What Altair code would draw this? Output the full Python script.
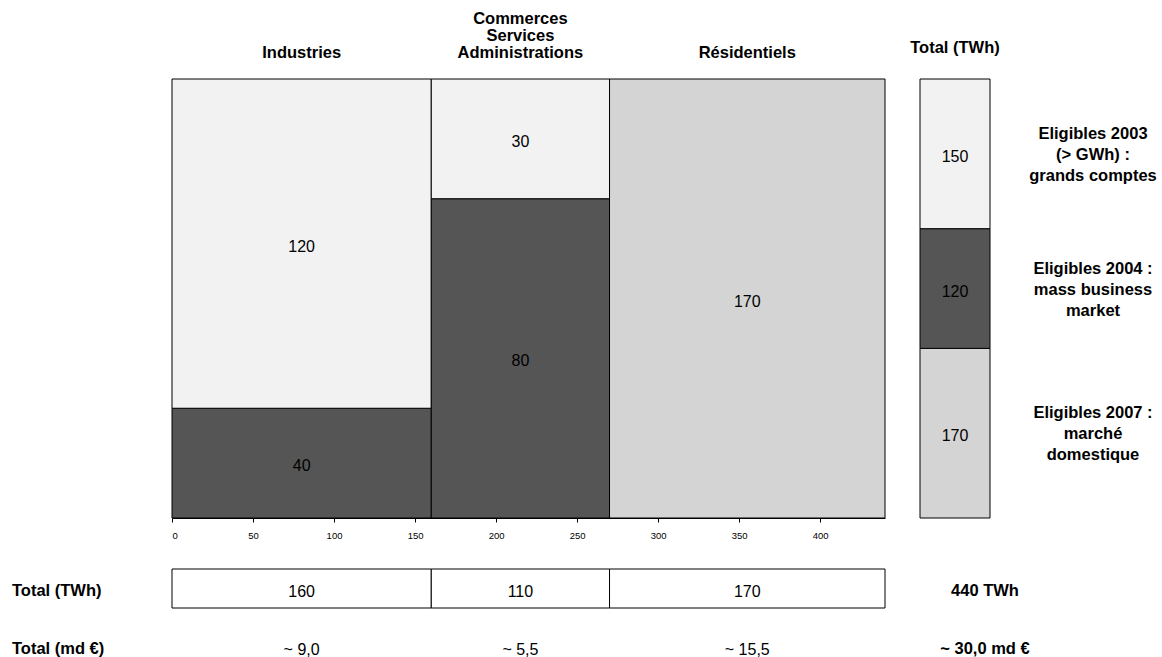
import altair as alt
import pandas as pd

# ---- data ----
segments = ["Industries", "Commerces\nServices\nAdministrations", "Résidentiels"]
eligibles_2003 = [120, 30, 0]
eligibles_2004 = [40, 80, 0]
eligibles_2007 = [0, 0, 170]
segment_euro = ["~ 9,0", "~ 5,5", "~ 15,5"]
total_euro_label = "~ 30,0 md €"
categories = ["Eligibles 2007", "Eligibles 2004", "Eligibles 2003"]  # bottom -> top
legend_labels = [
    "Eligibles 2007 :\nmarché\ndomestique",
    "Eligibles 2004 :\nmass business\nmarket",
    "Eligibles 2003\n(> GWh) :\ngrands comptes",
]
colors = ["#d4d4d4", "#555555", "#f2f2f2"]
x_ticks = [0, 50, 100, 150, 200, 250, 300, 350, 400]

FONT = "Liberation Sans"
BOLD = 16.5
NUM = 16
series = {"Eligibles 2007": eligibles_2007, "Eligibles 2004": eligibles_2004, "Eligibles 2003": eligibles_2003}
seg_tot = [a + b + c for a, b, c in zip(eligibles_2003, eligibles_2004, eligibles_2007)]
grand_total = sum(seg_tot)

cells, segs = [], []
x0 = 0
for i, seg in enumerate(segments):
    w = seg_tot[i]
    acc = 0
    for cat in categories:
        v = series[cat][i]
        if v > 0:
            cells.append(dict(seg=seg, cat=cat, value=v, x0=x0, x1=x0 + w,
                              xm=x0 + w / 2, y0=acc / w, y1=(acc + v) / w, ym=(acc + v / 2) / w))
        acc += v
    segs.append(dict(seg=seg, nl=seg.count("\n") + 1, x0=x0, x1=x0 + w, xm=x0 + w / 2,
                     total=w, euro=segment_euro[i]))
    x0 += w
cells = pd.DataFrame(cells)
segs = pd.DataFrame(segs)

tot_rows = []
acc = 0
for cat, lab in zip(categories, legend_labels):
    v = sum(series[cat])
    tot_rows.append(dict(cat=cat, value=v, y0=acc / grand_total, y1=(acc + v) / grand_total,
                         ym=(acc + v / 2) / grand_total, legend=lab))
    acc += v
tots = pd.DataFrame(tot_rows)

xs = alt.Scale(domain=[0, grand_total], nice=False, zero=True)
ys = alt.Scale(domain=[0, 1], nice=False, zero=True)
cs = alt.Scale(domain=categories, range=colors)

xaxis = alt.Axis(values=x_ticks, title=None, grid=False, labelFontSize=9.5, labelFont=FONT,
                 tickSize=4, labelPadding=8, domainColor="black", tickColor="black",
                 labelColor="black", domainWidth=1)

rects = alt.Chart(cells).mark_rect(stroke="black", strokeWidth=1).encode(
    x=alt.X("x0:Q", scale=xs, axis=xaxis), x2="x1:Q",
    y=alt.Y("y0:Q", scale=ys, axis=None), y2="y1:Q",
    color=alt.Color("cat:N", scale=cs, legend=None),
)
cell_text = alt.Chart(cells).mark_text(font=FONT, fontSize=NUM, color="black", dy=3).encode(
    x=alt.X("xm:Q", scale=xs), y=alt.Y("ym:Q", scale=ys), text="value:Q")

headers = alt.Chart(segs).transform_calculate(
    hy="-26 - (datum.nl - 1) * 17"
).mark_text(font=FONT, fontSize=BOLD, fontWeight="bold", lineBreak="\n", lineHeight=17,
            color="black").encode(
    x=alt.X("xm:Q", scale=xs), y=alt.Y("hy:Q", scale=None), text="seg:N")

# right total bar
tot_rect = alt.Chart(tots).mark_rect(stroke="black", strokeWidth=1).encode(
    x=alt.value(748), x2=alt.value(818),
    y=alt.Y("y0:Q", scale=ys), y2="y1:Q",
    color=alt.Color("cat:N", scale=cs, legend=None))
tot_text = alt.Chart(tots).mark_text(font=FONT, fontSize=NUM, color="black", dy=3).encode(
    x=alt.value(783), y=alt.Y("ym:Q", scale=ys), text="value:Q")
leg_text = alt.Chart(tots).mark_text(font=FONT, fontSize=BOLD, fontWeight="bold", lineBreak="\n",
                                     lineHeight=21, dy=-20, color="black").encode(
    x=alt.value(921), y=alt.Y("ym:Q", scale=ys), text="legend:N")
tot_header = alt.Chart(pd.DataFrame({"t": ["Total (TWh)"]})).mark_text(
    font=FONT, fontSize=BOLD, fontWeight="bold", color="black").encode(
    x=alt.value(783), y=alt.value(-31), text="t:N")

# bottom rows
box = alt.Chart(segs).mark_rect(fill="white", stroke="black", strokeWidth=1).encode(
    x=alt.X("x0:Q", scale=xs), x2="x1:Q", y=alt.value(490), y2=alt.value(529))
box_text = alt.Chart(segs).mark_text(font=FONT, fontSize=NUM, color="black").encode(
    x=alt.X("xm:Q", scale=xs), y=alt.value(513), text="total:Q")
euro_text = alt.Chart(segs).mark_text(font=FONT, fontSize=NUM, color="black").encode(
    x=alt.X("xm:Q", scale=xs), y=alt.value(571), text="euro:N")

side = pd.DataFrame({
    "t": ["Total (TWh)", "Total (md €)", f"{grand_total} TWh", total_euro_label],
    "px": [-160, -160, 813, 813],
    "py": [512, 570, 512, 570],
    "al": ["left", "left", "center", "center"],
})
left_lab = alt.Chart(side[side.al == "left"]).mark_text(
    font=FONT, fontSize=BOLD, fontWeight="bold", align="left", color="black").encode(
    x=alt.X("px:Q", scale=None), y=alt.Y("py:Q", scale=None), text="t:N")
right_lab = alt.Chart(side[side.al == "center"]).mark_text(
    font=FONT, fontSize=BOLD, fontWeight="bold", align="center", color="black").encode(
    x=alt.X("px:Q", scale=None), y=alt.Y("py:Q", scale=None), text="t:N")

chart = alt.layer(rects, cell_text, headers, tot_rect, tot_text, leg_text, tot_header,
                  box, box_text, euro_text, left_lab, right_lab).properties(
    width=713, height=439,
    autosize=alt.AutoSizeParams(type="none"),
    padding={"left": 172, "top": 79, "right": 277, "bottom": 139},
    background="white",
).configure_view(stroke=None)

chart.save("out.html", embed_options={"renderer": "svg", "actions": False})
